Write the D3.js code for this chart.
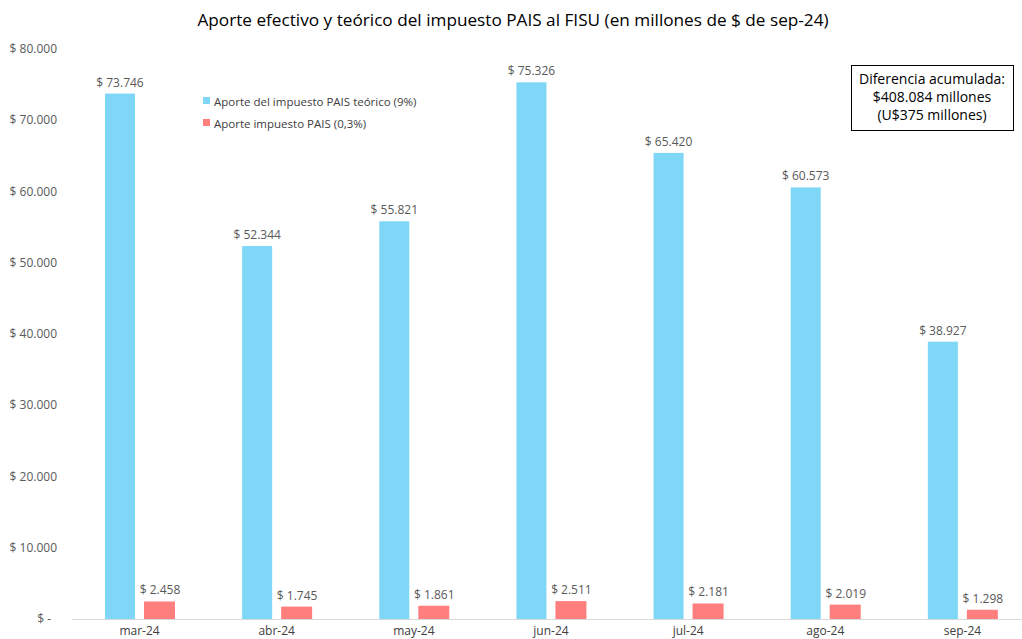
<!DOCTYPE html>
<html lang="es">
<head>
<meta charset="utf-8">
<title>Aporte impuesto PAIS al FISU</title>
<script src="https://cdn.jsdelivr.net/npm/d3@7"></script>
<style>
body { margin:0; background:#fff; font-family:'Open Sans', sans-serif; }
svg { display:block; }
.ytick text, .vlabel { fill:#595959; font-size:12px; }
.xlabel { fill:#404040; font-size:12px; }
.legend text { fill:#404040; font-size:11.5px; }
.title { fill:#000; font-size:17.2px; }
.note text { fill:#000; font-size:14px; }
</style>
</head>
<body>
<svg width="1022" height="639"></svg>
<script>
var months = ["mar-24","abr-24","may-24","jun-24","jul-24","ago-24","sep-24"];
var teorico = [73746, 52344, 55821, 75326, 65420, 60573, 38927];
var efectivo = [2458, 1745, 1861, 2511, 2181, 2019, 1298];
var yTicks = [0,10000,20000,30000,40000,50000,60000,70000,80000];
var seriesNames = ["Aporte del impuesto PAIS teórico (9%)", "Aporte impuesto PAIS (0,3%)"];
var seriesColors = ["#7fd7f7", "#ff7f7f"];
var noteLines = ["Diferencia acumulada:", "$408.084 millones", "(U$375 millones)"];

var svg = d3.select("svg");
var fmt = function(v) { return "$ " + d3.format(",")(v).replace(/,/g, "."); };

var x = d3.scaleBand().domain(months).range([71, 1031]);
var y = d3.scaleLinear().domain([0, 80000]).range([619, 49]);

// title
svg.append("text").attr("class","title")
  .attr("x", 513).attr("y", 26).attr("text-anchor","middle")
  .text("Aporte efectivo y teórico del impuesto PAIS al FISU (en millones de $ de sep-24)");

// y axis labels
var yt = svg.append("g").attr("class","ytick");
yt.selectAll("text").data(yTicks).enter().append("text")
  .attr("x", function(d) { return d === 0 ? 51 : 57; })
  .attr("y", function(d) { return y(d) + 4; })
  .attr("text-anchor","end")
  .text(function(d) { return d === 0 ? "$ -" : fmt(d); });

// baseline
svg.append("line")
  .attr("x1", 72).attr("x2", 1022)
  .attr("y1", y(0) + 0.5).attr("y2", y(0) + 0.5)
  .attr("stroke", "#d9d9d9");

var data = months.map(function(m, i) { return {m: m, t: teorico[i], e: efectivo[i]}; });

var g = svg.append("g").selectAll("g").data(data).enter().append("g")
  .attr("transform", function(d) { return "translate(" + x(d.m) + ",0)"; });

var bw = 30, off1 = 34, off2 = 73;

g.append("rect")
  .attr("x", off1).attr("width", bw)
  .attr("y", function(d) { return y(d.t); })
  .attr("height", function(d) { return y(0) - y(d.t); })
  .attr("fill", seriesColors[0]);

g.append("rect")
  .attr("x", off2).attr("width", bw + 1)
  .attr("y", function(d) { return y(d.e); })
  .attr("height", function(d) { return y(0) - y(d.e); })
  .attr("fill", seriesColors[1]);

g.append("text").attr("class","vlabel")
  .attr("x", off1 + bw / 2).attr("y", function(d) { return y(d.t) - 7; })
  .attr("text-anchor","middle")
  .text(function(d) { return fmt(d.t); });

g.append("text").attr("class","vlabel")
  .attr("x", off2 + bw / 2 + 1).attr("y", function(d) { return y(d.e) - 7; })
  .attr("text-anchor","middle")
  .text(function(d) { return fmt(d.e); });

g.append("text").attr("class","xlabel")
  .attr("x", x.bandwidth() / 2).attr("y", 635)
  .attr("text-anchor","middle")
  .text(function(d) { return d.m; });

// legend
var lg = svg.append("g").attr("class","legend")
  .selectAll("g").data(seriesNames).enter().append("g")
  .attr("transform", function(d, i) { return "translate(203," + (102 + i * 22) + ")"; });
lg.append("rect").attr("x", 0).attr("y", -5).attr("width", 7).attr("height", 7)
  .attr("fill", function(d, i) { return seriesColors[i]; });
lg.append("text").attr("x", 11).attr("y", 4).text(function(d) { return d; });

// note box
var note = svg.append("g").attr("class","note");
note.append("rect").attr("x", 851.5).attr("y", 65.5).attr("width", 162).attr("height", 65)
  .attr("fill","#fff").attr("stroke","#000").attr("stroke-width", 1);
note.selectAll("text").data(noteLines).enter().append("text")
  .attr("x", 932).attr("y", function(d, i) { return 84 + i * 18; })
  .attr("text-anchor","middle")
  .text(function(d) { return d; });
</script>
</body>
</html>
